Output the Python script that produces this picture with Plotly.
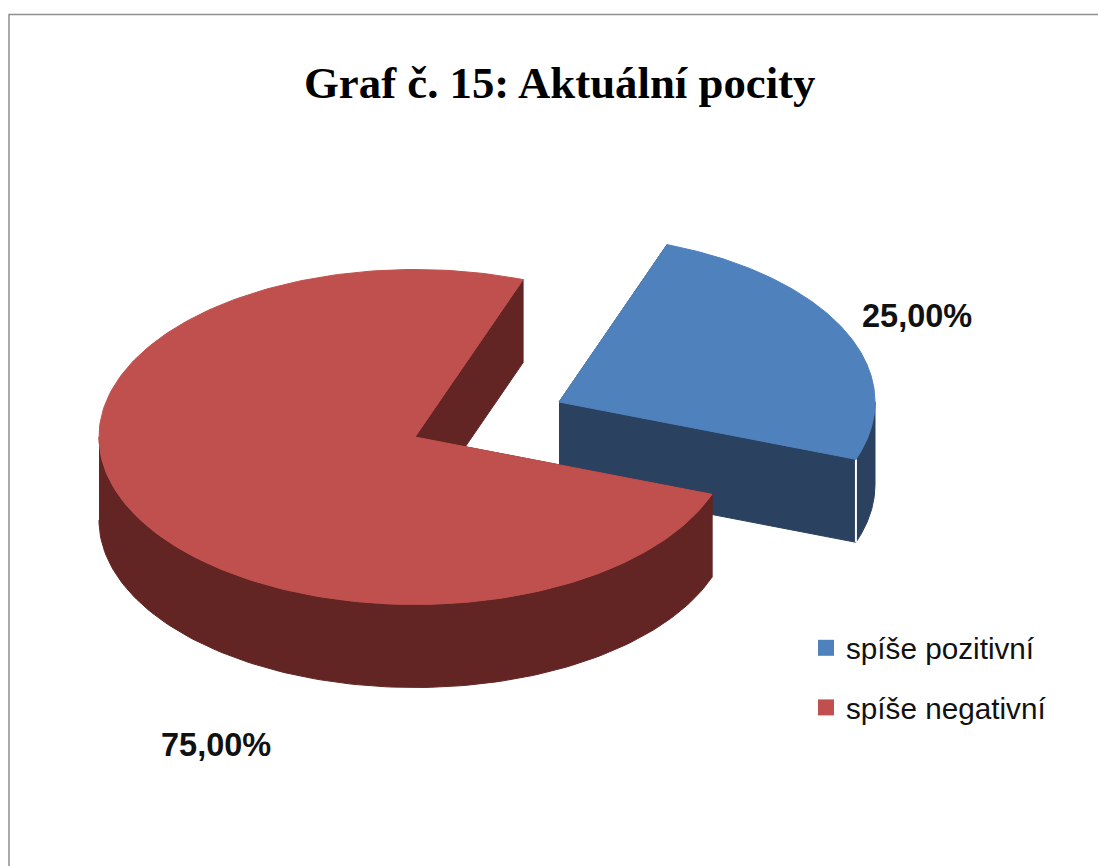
import numpy as np
import plotly.graph_objects as go

categories = ["spíše pozitivní", "spíše negativní"]
values = [25.0, 75.0]
title_text = "Graf č. 15: Aktuální pocity"
top_colors = ["#4F81BD", "#C0504D"]
side_colors = ["#2A4260", "#632523"]

# tilted-pie geometry (pixels)
W, H = 1098, 866
CENTERS = [(559, 402), (415, 437)]
RX, RY = 316, 167.5
DEPTH = 83
START_DEG = 70.0


def label(v):
    return f"{v:.2f}".replace(".", ",") + "%"


def rim(c, t):
    r = np.radians(t)
    return c[0] + RX * np.cos(r), c[1] - RY * np.sin(r)


def poly(fig, xs, ys, color, line=None):
    fig.add_trace(go.Scatter(x=list(xs), y=list(ys), mode="lines", fill="toself", fillcolor=color,
                             line=dict(color=line or color, width=1), hoverinfo="skip", showlegend=False))


fig = go.Figure()
total = sum(values)
angle = START_DEG
spans = []
for v in values:
    spans.append((angle, angle - 360 * v / total))
    angle = spans[-1][1]

for i, (a0, a1) in enumerate(spans):
    c = CENTERS[i]
    side, top = side_colors[i], top_colors[i]
    # cut faces
    for edge in (a0, a1):
        ex, ey = rim(c, edge)
        poly(fig, [c[0], ex, ex, c[0]], [c[1], ey, ey + DEPTH, c[1] + DEPTH], side)
    # outer wall: only the front half of the rim is visible
    lo, hi = min(a0, a1), max(a0, a1)
    vis = []
    for k in (-360, 0):
        s, e = max(lo, 180 + k), min(hi, 360 + k)
        if s < e:
            vis.append((s, e))
    for s, e in vis:
        t = np.linspace(s, e, 120)
        x, y = rim(c, t)
        poly(fig, np.r_[x, x[::-1]], np.r_[y, y[::-1] + DEPTH], side)
    # white seam on the blue slice corner
    if i == 0:
        ex, ey = rim(c, a1)
        fig.add_trace(go.Scatter(x=[ex, ex], y=[ey, ey + DEPTH], mode="lines",
                                 line=dict(color="white", width=2), hoverinfo="skip", showlegend=False))
    # top face
    t = np.linspace(a0, a1, 240)
    x, y = rim(c, t)
    poly(fig, np.r_[c[0], x, c[0]], np.r_[c[1], y, c[1]], top)

for name, col in zip(categories, top_colors):
    fig.add_trace(go.Scatter(x=[None], y=[None], mode="markers", name=name, legendgroup=name,
                             marker=dict(symbol="square", size=17, color=col), hoverinfo="skip"))

fig.update_layout(
    width=W, height=H, autosize=False, margin=dict(l=0, r=0, t=0, b=0),
    paper_bgcolor="white", plot_bgcolor="white",
    xaxis=dict(range=[0, W], visible=False, fixedrange=True),
    yaxis=dict(range=[H, 0], visible=False, fixedrange=True),
    legend=dict(x=806 / W, y=1 - 622 / H, xanchor="left", yanchor="top", bgcolor="rgba(0,0,0,0)",
                font=dict(family="Liberation Sans", size=29.7, color="#111111"),
                tracegroupgap=18, itemwidth=30),
    shapes=[dict(type="rect", x0=9, y0=14.5, x1=W + 20, y1=H + 20, line=dict(color="#8f8f8f", width=1.5))],
    annotations=[
        dict(x=559, y=83, text=f"<b>{title_text}</b>", showarrow=False, xanchor="center", yanchor="middle",
             font=dict(family="Liberation Serif", size=44.8, color="black")),
        dict(x=917, y=316, text=f"<b>{label(values[0])}</b>", showarrow=False,
             font=dict(family="Liberation Sans", size=32.5, color="#111111")),
        dict(x=216, y=745, text=f"<b>{label(values[1])}</b>", showarrow=False,
             font=dict(family="Liberation Sans", size=32.5, color="#111111")),
    ],
)
fig.write_html("out.html", config=dict(displayModeBar=False),
               post_script="document.body.style.margin='0';document.body.style.overflow='hidden';")
